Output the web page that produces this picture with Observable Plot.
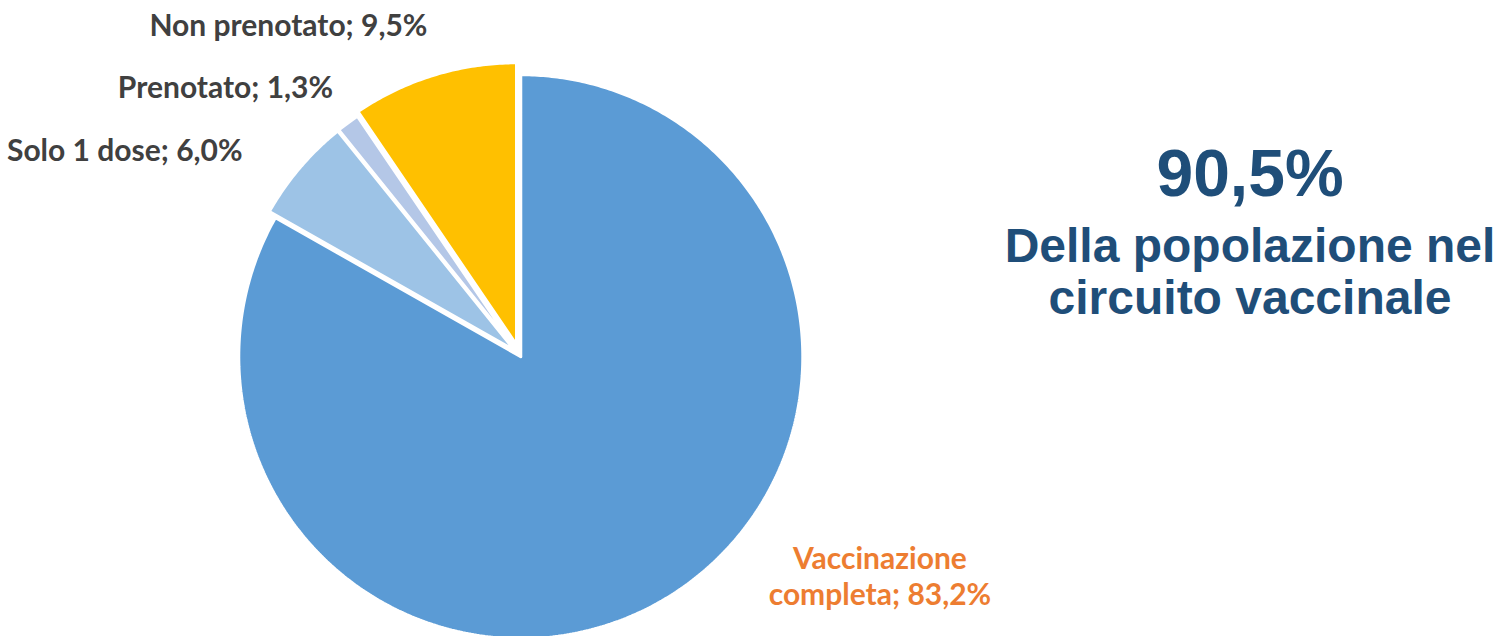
<!DOCTYPE html>
<html>
<head>
<meta charset="utf-8">
<script src="https://cdn.jsdelivr.net/npm/d3@7"></script>
<script src="https://cdn.jsdelivr.net/npm/@observablehq/plot@0.6"></script>
<style>
  html, body { margin: 0; padding: 0; background: #ffffff; }
  #wrap { position: relative; width: 1501px; height: 636px; overflow: hidden; }
  .side { position: absolute; left: 1000px; width: 500px; text-align: center;
          font-family: "Liberation Sans", Arial, sans-serif; font-weight: bold; color: #1F4E79; }
  #big { top: 140px; font-size: 66px; line-height: 66px; }
  #sub { top: 220px; font-size: 48px; line-height: 52px; }
</style>
</head>
<body>
<div id="wrap">
  <div id="chart"></div>
  <div id="big" class="side"></div>
  <div id="sub" class="side"></div>
</div>
<script>
// ---- data ----
const categories = ["Vaccinazione completa", "Solo 1 dose", "Prenotato", "Non prenotato"];
const values = [83.2, 6.0, 1.3, 9.5];
const valueLabels = ["83,2%", "6,0%", "1,3%", "9,5%"];
const colors = ["#5B9BD5", "#9DC3E6", "#B4C7E7", "#FFC000"];
const headline = "90,5%";
const headlineSub = ["Della popolazione nel", "circuito vaccinale"];

// ---- layout ----
const W = 1501, H = 636;
const cx = 519, cy = 354, R = 282;             // pixel centre and radius of the pie
const explode = [0.009, 0.022, 0.022, 0.036];  // radial offsets (in radii)
const labelPolar = [                           // label anchor: angle shift (deg) from slice mid, radius
  {da: -28.2, r: 1.50, anchor: "middle", color: "#ED7D31"},
  {da: -3.8, r: 1.222, anchor: "end", color: "#404040"},
  {da: 1.7, r: 1.157, anchor: "end", color: "#404040"},
  {da: 1.5, r: 1.214, anchor: "end", color: "#404040"}
];

const arcs = d3.pie().sort(null).value(d => d)(values);
const rows = [];
arcs.forEach((a, i) => {
  const mid = (a.startAngle + a.endAngle) / 2;
  const ox = explode[i] * Math.sin(mid), oy = explode[i] * Math.cos(mid);
  rows.push({cat: categories[i], x: ox, y: oy});
  const n = Math.max(4, Math.ceil((a.endAngle - a.startAngle) / 0.01));
  for (let k = 0; k <= n; k++) {
    const t = a.startAngle + (a.endAngle - a.startAngle) * k / n;
    rows.push({cat: categories[i], x: ox + Math.sin(t), y: oy + Math.cos(t)});
  }
  rows.push({cat: categories[i], x: ox, y: oy});
});

const labels = arcs.map((a, i) => {
  const mid = (a.startAngle + a.endAngle) / 2 + labelPolar[i].da * Math.PI / 180;
  const txt = i === 0 ? "Vaccinazione\ncompleta; " + valueLabels[i] : categories[i] + "; " + valueLabels[i];
  return {cat: categories[i], x: labelPolar[i].r * Math.sin(mid), y: labelPolar[i].r * Math.cos(mid),
          text: txt, anchor: labelPolar[i].anchor, color: labelPolar[i].color};
});

const plot = Plot.plot({
  width: W, height: H,
  margin: 0,
  x: {domain: [-cx / R, (W - cx) / R], axis: null},
  y: {domain: [-(H - cy) / R, cy / R], axis: null},
  color: {domain: categories, range: colors},
  marks: [
    Plot.line(rows, {x: "x", y: "y", z: "cat", fill: "cat", stroke: "white", strokeWidth: 3,
                     strokeLinejoin: "miter", curve: "linear"}),
    ...["end", "middle"].map(anc => Plot.text(labels.filter(d => d.anchor === anc), {
      x: "x", y: "y", text: "text", textAnchor: anc, fill: d => d.color,
      fontFamily: "Lato, 'Open Sans', sans-serif", fontWeight: "bold", fontSize: 30, lineHeight: 1.2
    }))
  ]
});
document.getElementById("chart").appendChild(plot);

document.getElementById("big").textContent = headline;
document.getElementById("sub").innerHTML = headlineSub.join("<br>");
</script>
</body>
</html>
